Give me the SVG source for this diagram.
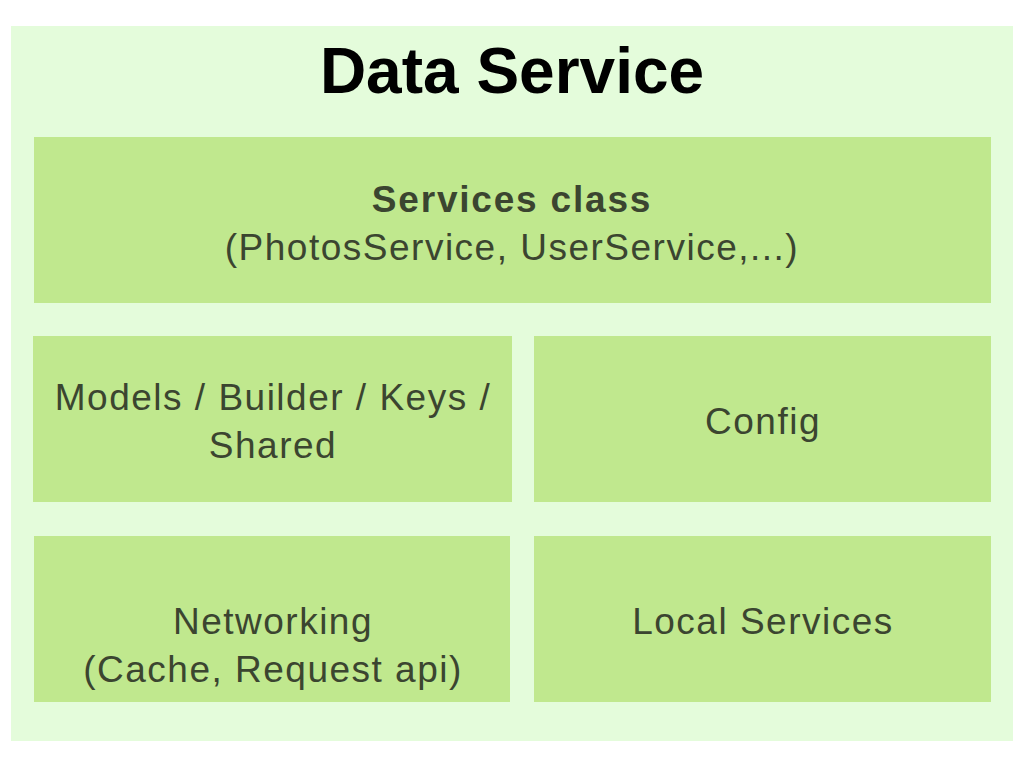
<svg xmlns="http://www.w3.org/2000/svg" width="1024" height="768" viewBox="0 0 1024 768">
<style>
.box{fill:#c0e88e}
.t{font-family:"Liberation Sans",Arial,sans-serif;font-size:37px;fill:#3b4530;text-anchor:middle;letter-spacing:1.5px}
.b{font-weight:bold;letter-spacing:1.8px}
</style>
<rect width="1024" height="768" fill="#ffffff"/>
<g id="data-service">
<rect x="11" y="26" width="1002" height="715" fill="#e4fcdb"/>
<text x="512" y="93" font-family="Liberation Sans,Arial,sans-serif" font-size="64" font-weight="bold" text-anchor="middle" fill="#000">Data Service</text>
</g>
<g id="services-class">
<rect class="box" x="34" y="137" width="957" height="166"/>
<text class="t b" x="512" y="212">Services class</text>
<text class="t" x="512" y="260">(PhotosService, UserService,...)</text>
</g>
<g id="models">
<rect class="box" x="33" y="336" width="479" height="166"/>
<text class="t" x="273" y="410">Models / Builder / Keys /</text>
<text class="t" x="273" y="458">Shared</text>
</g>
<g id="config">
<rect class="box" x="534" y="336" width="457" height="166"/>
<text class="t" x="763" y="434">Config</text>
</g>
<g id="networking">
<rect class="box" x="34" y="536" width="476" height="166"/>
<text class="t" x="273" y="634">Networking</text>
<text class="t" x="273" y="682">(Cache, Request api)</text>
</g>
<g id="local-services">
<rect class="box" x="534" y="536" width="457" height="166"/>
<text class="t" x="763" y="634">Local Services</text>
</g>
<g id="connectors"/>
</svg>
